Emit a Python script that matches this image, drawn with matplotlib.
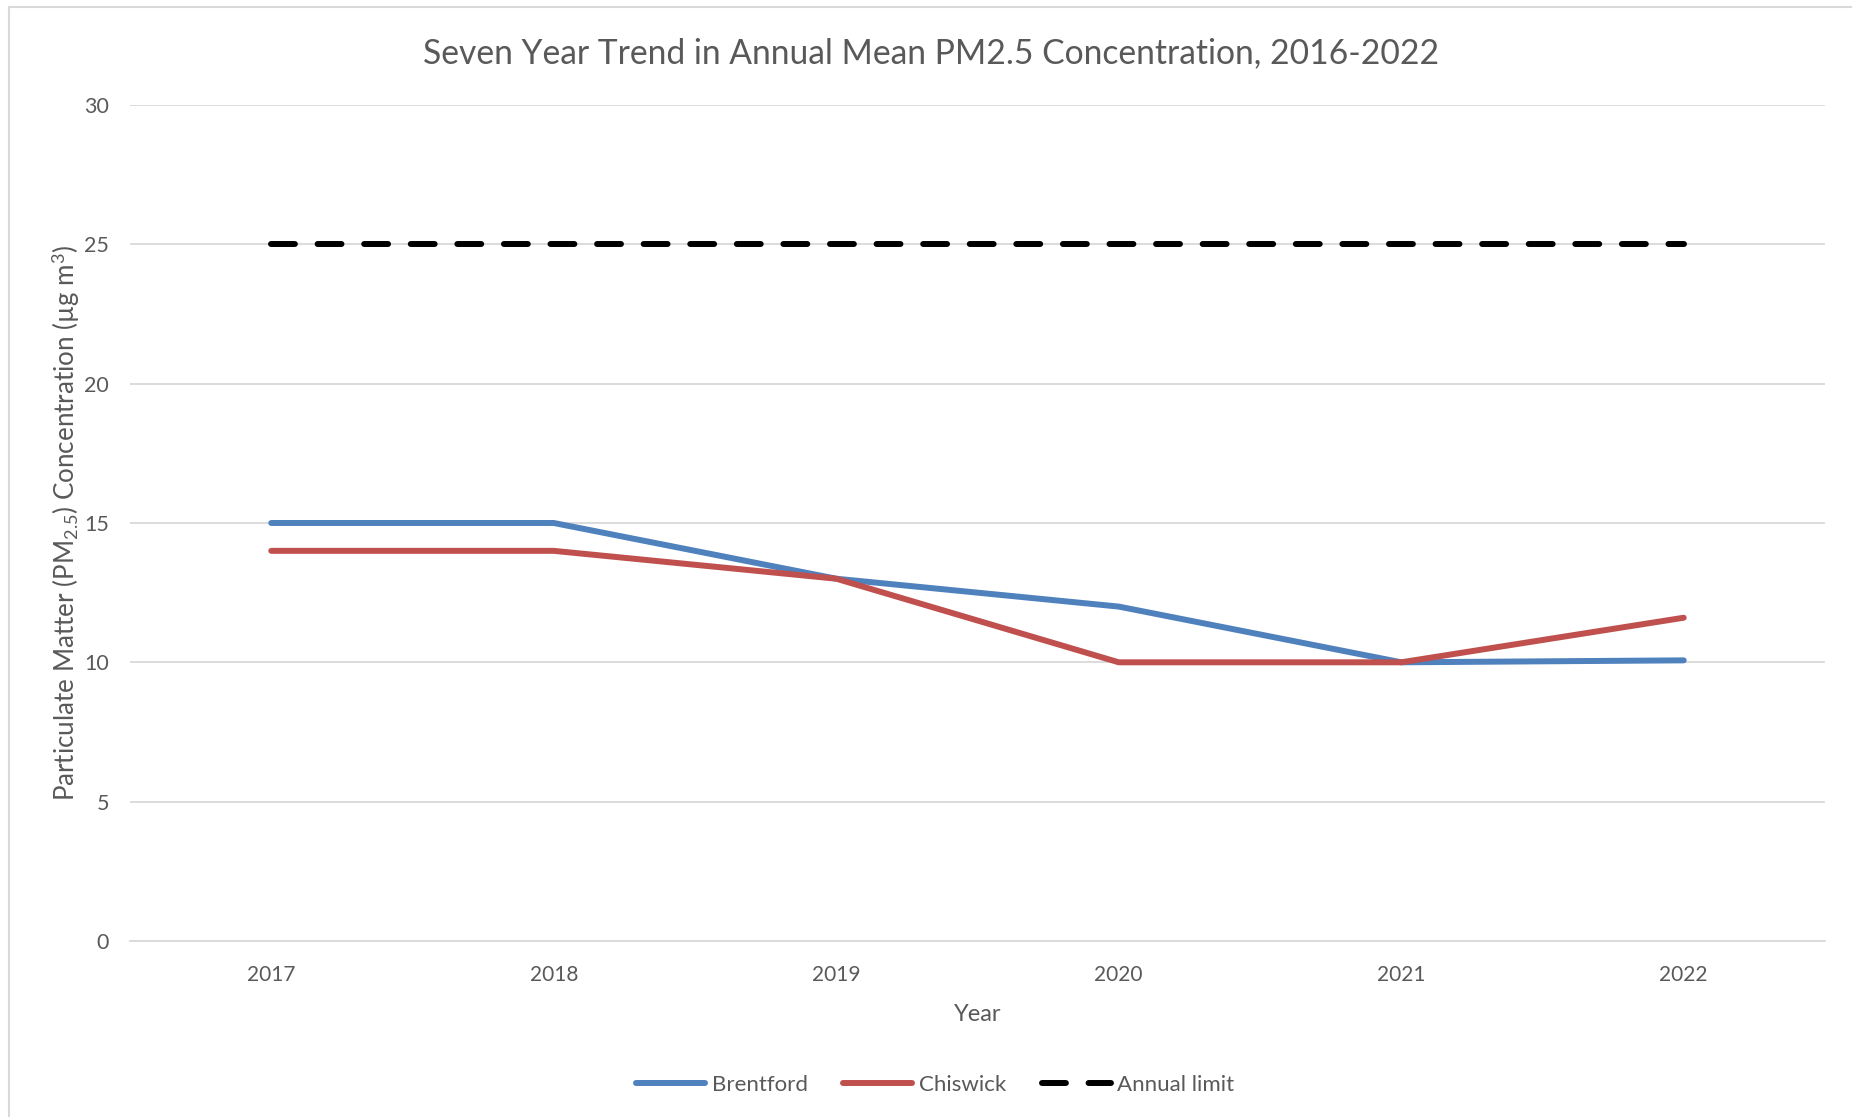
import matplotlib
matplotlib.use("Agg")
import matplotlib.pyplot as plt
from matplotlib.lines import Line2D

plt.rcParams["font.family"] = ["Lato", "DejaVu Sans"]
plt.rcParams["mathtext.fontset"] = "custom"
plt.rcParams["mathtext.rm"] = "Lato"
plt.rcParams["mathtext.it"] = "Lato:italic"

years = ["2017", "2018", "2019", "2020", "2021", "2022"]
brentford = [15, 15, 13, 12, 10, 10.07]
chiswick = [14, 14, 13, 10, 10, 11.6]
annual_limit = [25, 25, 25, 25, 25, 25]

BLUE, RED, INK, GRID = "#4F81BD", "#C0504D", "#595959", "#D9D9D9"

fig = plt.figure(figsize=(18.52, 11.17), dpi=100)
ax = fig.add_axes([0.0702, 0.1576, 0.9152, 0.7484])

x = range(len(years))
ax.plot(x, brentford, color=BLUE, lw=4.3, solid_capstyle="round", solid_joinstyle="round", label="Brentford")
ax.plot(x, chiswick, color=RED, lw=4.3, solid_capstyle="round", solid_joinstyle="round", label="Chiswick")
ax.plot(x, annual_limit, color="black", lw=4.3, dashes=(4, 3.8), dash_capstyle="round", label="Annual limit")

ax.set_xlim(-0.5, len(years) - 0.5)
ax.set_ylim(0, 30)
ax.set_yticks(range(0, 31, 5))
ax.set_xticks(list(x))
ax.set_xticklabels(years)
ax.grid(axis="y", color=GRID, lw=1.3)
ax.set_axisbelow(True)
for s in ["top", "right", "left"]:
    ax.spines[s].set_visible(False)
ax.spines["bottom"].set_color(GRID)
ax.spines["bottom"].set_linewidth(1.3)
ax.tick_params(length=0, labelsize=15, colors=INK)
ax.tick_params(axis="x", pad=17)
ax.tick_params(axis="y", pad=15, labelsize=15.5)

ax.set_xlabel("Year", fontsize=17, color=INK, labelpad=14)
ax.set_ylabel(r"Particulate Matter (PM$_{2.5}$) Concentration (µg m$^{3}$)",
              fontsize=18.7, color=INK, labelpad=2)

fig.text(0.5025, 0.952, "Seven Year Trend in Annual Mean PM2.5 Concentration, 2016-2022",
         fontsize=24.2, color=INK, ha="center", va="center")

leg = fig.legend(loc="center", bbox_to_anchor=(0.505, 0.029), ncol=3, frameon=False,
                 fontsize=16, labelcolor=INK, handlelength=3.1, columnspacing=1.6, handletextpad=0.3)

# chart-area border (left and top edges only visible)
fig.add_artist(Line2D([9 / 1852, 9 / 1852], [0, 1 - 7 / 1117], color=GRID, lw=1.5))
fig.add_artist(Line2D([9 / 1852, 1], [1 - 7 / 1117, 1 - 7 / 1117], color=GRID, lw=1.5))

fig.savefig("out.png", dpi=100)
